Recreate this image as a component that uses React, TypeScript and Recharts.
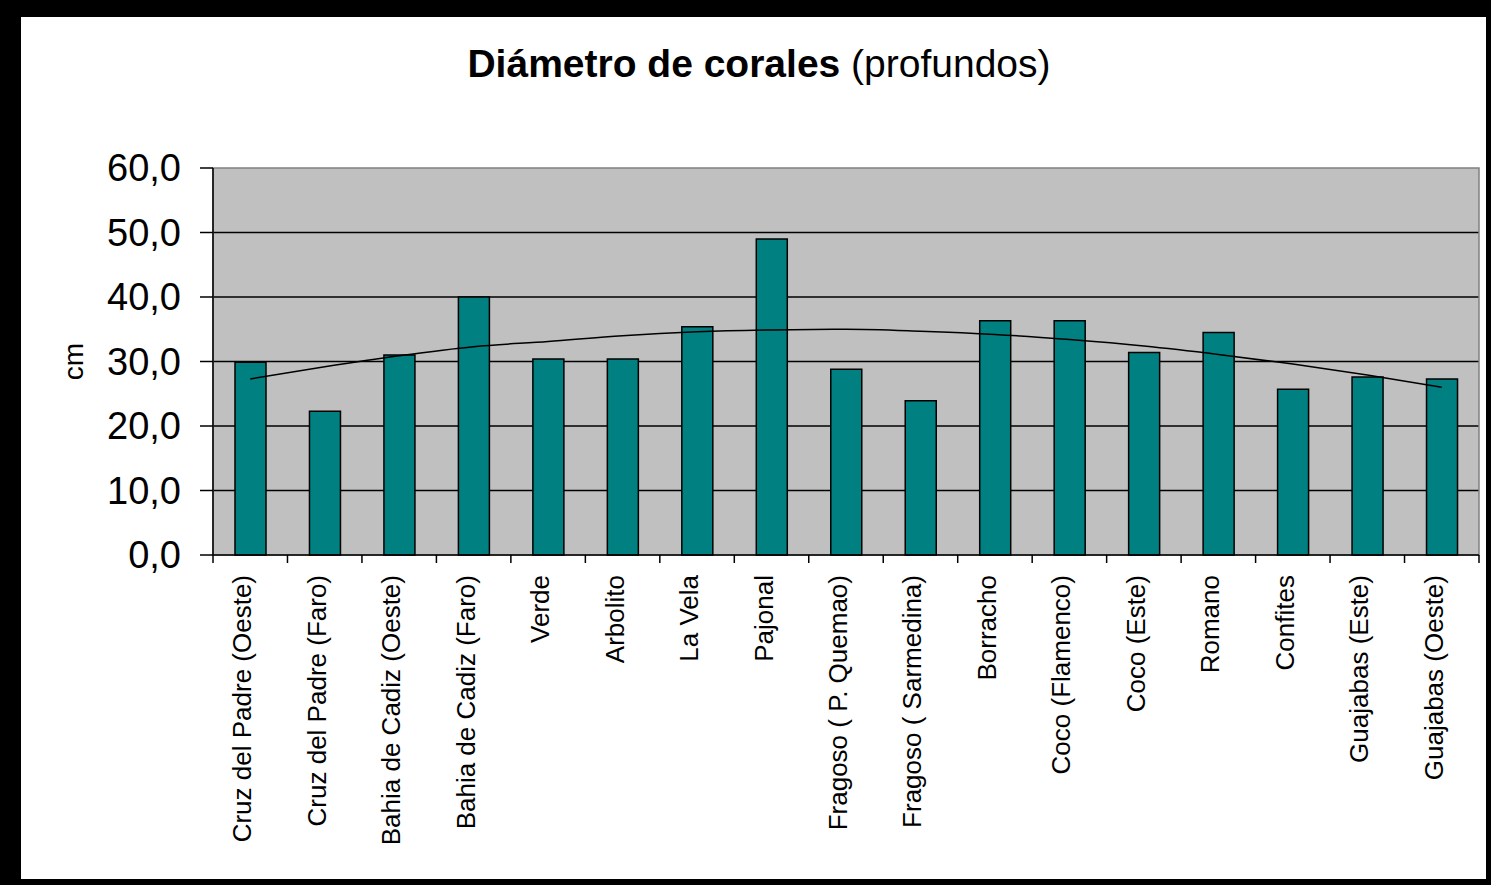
import {
  Bar,
  CartesianGrid,
  ComposedChart,
  Line,
  ReferenceArea,
  XAxis,
  YAxis,
} from "recharts";

const categories = [
  "Cruz del Padre (Oeste)",
  "Cruz del Padre (Faro)",
  "Bahia de Cadiz (Oeste)",
  "Bahia de Cadiz (Faro)",
  "Verde",
  "Arbolito",
  "La Vela",
  "Pajonal",
  "Fragoso ( P. Quemao)",
  "Fragoso ( Sarmedina)",
  "Borracho",
  "Coco (Flamenco)",
  "Coco (Este)",
  "Romano",
  "Confites",
  "Guajabas (Este)",
  "Guajabas (Oeste)",
];
const diameters = [
  29.9, 22.3, 31.0, 40.0, 30.4, 30.4, 35.4, 49.0, 28.8, 23.9, 36.3, 36.3, 31.4,
  34.5, 25.7, 27.6, 27.3,
];
// polynomial trend line
const trend = [
  27.3, 29.2, 30.9, 32.3, 33.1, 34.0, 34.6, 34.9, 35.0, 34.7, 34.2, 33.4, 32.4,
  31.1, 29.6, 27.9, 26.0,
];
const yTicks = [0, 10, 20, 30, 40, 50, 60];
const gridValues = [10, 20, 30, 40, 50];

const data = categories.map((name, i) => ({
  name,
  value: diameters[i],
  trend: trend[i],
}));

const FONT = '"Liberation Sans", Arial, sans-serif';
const PLOT_W = 1266;
const BAND = PLOT_W / categories.length;

const CategoryTick = (props: any) => {
  const { x, y, payload, index } = props;
  const left = x - BAND / 2;
  const ty = y + 20;
  return (
    <g>
      <line x1={left} y1={y} x2={left} y2={y + 8} stroke="#000" strokeWidth={1.5} />
      {index === categories.length - 1 && (
        <line
          x1={left + BAND}
          y1={y}
          x2={left + BAND}
          y2={y + 8}
          stroke="#000"
          strokeWidth={1.5}
        />
      )}
      <text
        x={x + 1}
        y={ty}
        transform={`rotate(-90, ${x + 1}, ${ty})`}
        textAnchor="end"
        fontFamily={FONT}
        fontSize={26}
        fill="#000"
      >
        {payload.value}
      </text>
    </g>
  );
};

const CmLabel = (props: any) => {
  const { viewBox } = props;
  const cx = viewBox.x + viewBox.width - 140;
  const cy = viewBox.y + viewBox.height / 2;
  return (
    <text
      x={cx}
      y={cy}
      transform={`rotate(-90, ${cx}, ${cy})`}
      textAnchor="middle"
      dominantBaseline="central"
      fontFamily={FONT}
      fontSize={28}
      fill="#000"
    >
      cm
    </text>
  );
};

export default function App() {
  return (
    <div
      style={{
        position: "absolute",
        left: 0,
        top: 0,
        width: 1491,
        height: 885,
        background: "#000",
        fontFamily: FONT,
      }}
    >
      <div
        style={{
          position: "absolute",
          left: 21,
          top: 17,
          width: 1465,
          height: 862,
          background: "#fff",
        }}
      />
      <div
        style={{
          position: "absolute",
          left: 409,
          top: 42,
          width: 700,
          textAlign: "center",
          fontSize: 39,
          lineHeight: "44px",
          color: "#000",
          whiteSpace: "nowrap",
        }}
      >
        <b>Diámetro de corales</b> (profundos)
      </div>
      <div style={{ position: "absolute", left: 0, top: 0 }}>
        <ComposedChart
          width={1491}
          height={885}
          data={data}
          margin={{ top: 168, right: 12, bottom: 30, left: 113 }}
        >
          <CartesianGrid
            horizontal
            vertical={false}
            horizontalValues={gridValues}
            fill="#C0C0C0"
            fillOpacity={1}
            stroke="#000"
            strokeWidth={1.5}
          />
          <ReferenceArea
            y1={0}
            y2={60}
            fill="none"
            stroke="#808080"
            strokeWidth={1.5}
            ifOverflow="visible"
          />
          <XAxis
            dataKey="name"
            interval={0}
            height={300}
            tickLine={false}
            tickSize={0}
            tickMargin={0}
            axisLine={{ stroke: "#000", strokeWidth: 1.5 }}
            tick={<CategoryTick />}
          />
          <YAxis
            domain={[0, 60]}
            ticks={yTicks}
            width={100}
            tickSize={13}
            tickMargin={19}
            tickFormatter={(v: number) => v.toFixed(1).replace(".", ",")}
            tick={{ fontSize: 38, fill: "#000", fontFamily: FONT }}
            tickLine={{ stroke: "#000", strokeWidth: 1.5 }}
            axisLine={{ stroke: "#000", strokeWidth: 1.5 }}
            label={<CmLabel />}
          />
          <Bar
            dataKey="value"
            barSize={31}
            fill="#008080"
            stroke="#000"
            strokeWidth={1.5}
            isAnimationActive={false}
          />
          <Line
            dataKey="trend"
            type="monotone"
            stroke="#000"
            strokeWidth={1.5}
            dot={false}
            activeDot={false}
            isAnimationActive={false}
          />
        </ComposedChart>
      </div>
    </div>
  );
}
